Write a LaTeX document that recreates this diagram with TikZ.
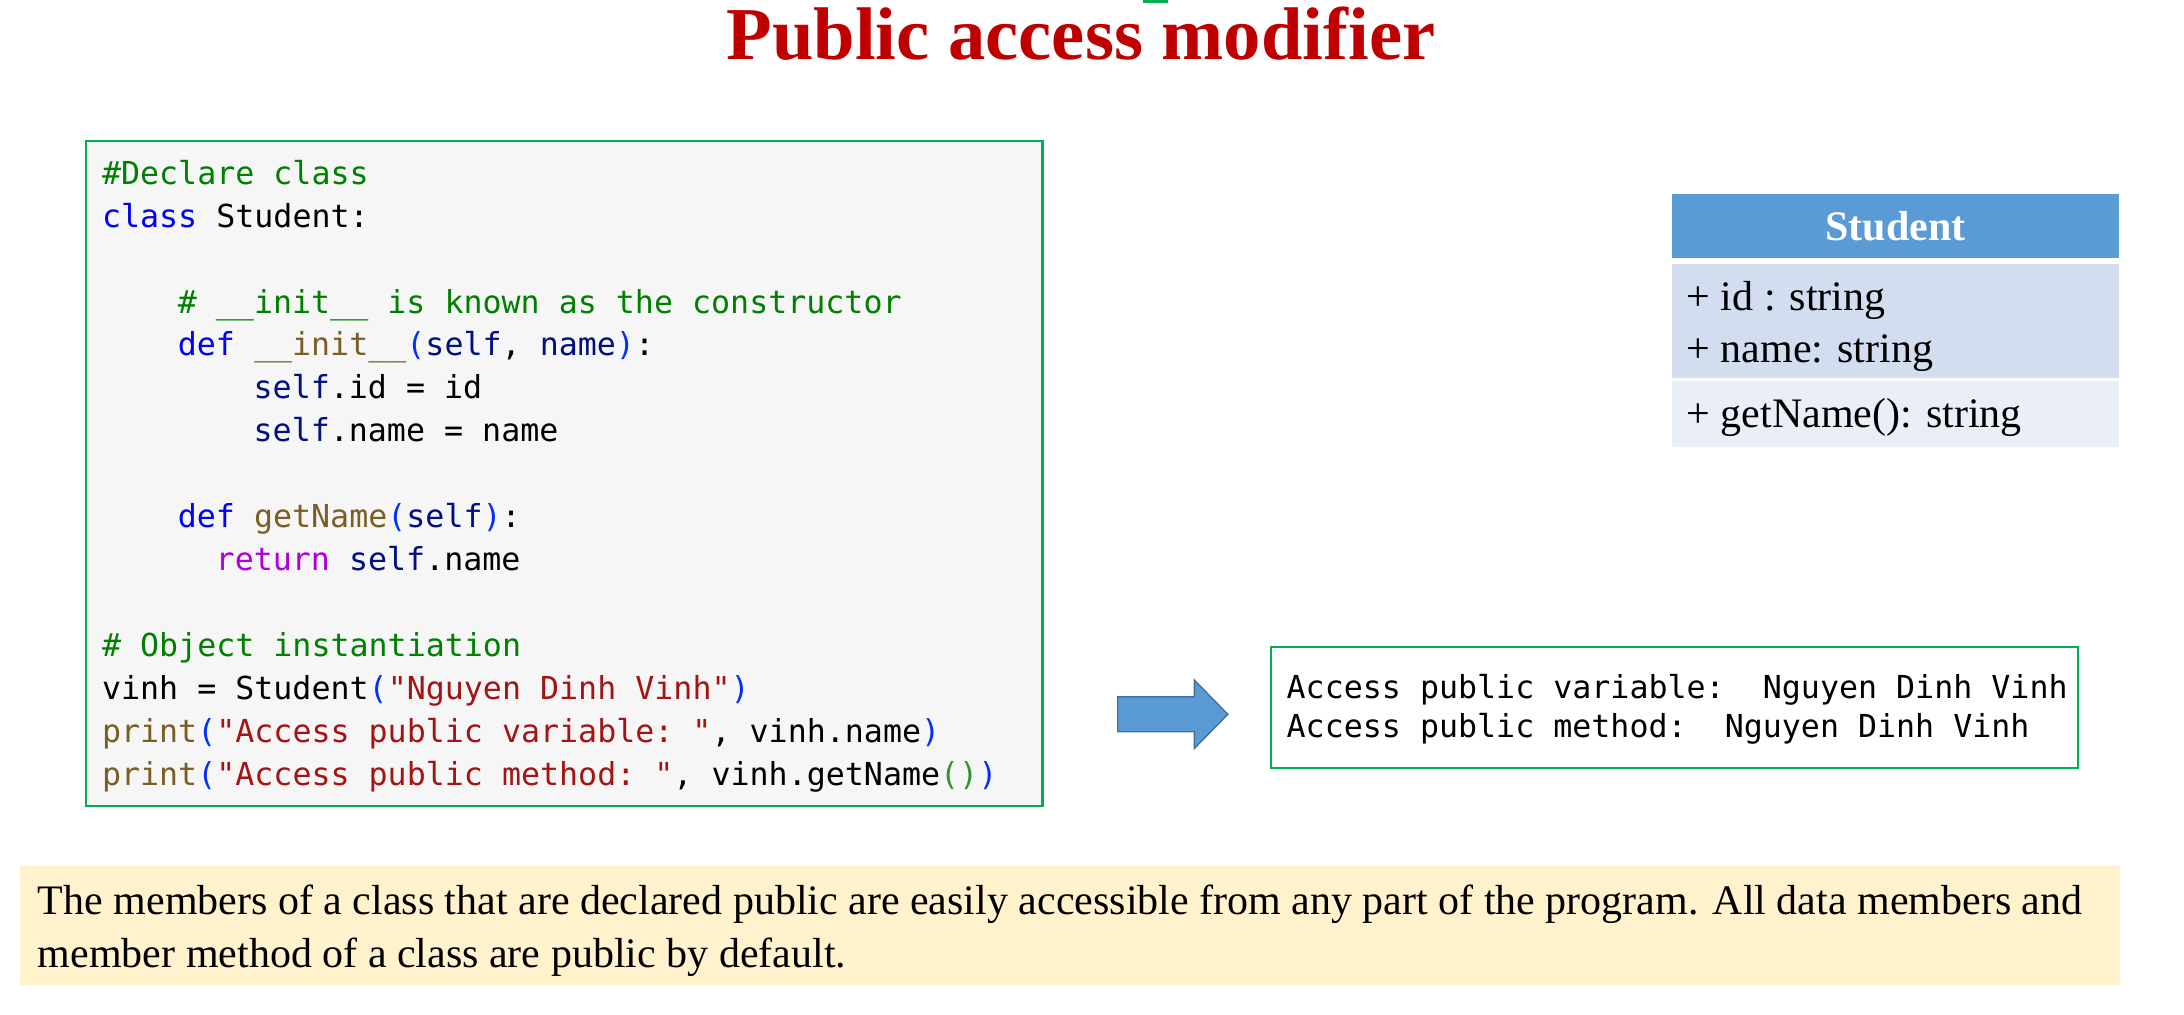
\documentclass[tikz,border=0pt]{standalone}
\usepackage{fontspec}
\setmainfont{Liberation Serif}
\setmonofont{DejaVu Sans Mono}
\usetikzlibrary{positioning}

\definecolor{titlered}{HTML}{C00000}
\definecolor{boxgreen}{HTML}{00B050}
\definecolor{codebg}{HTML}{F6F6F6}
\definecolor{umlhead}{HTML}{5B9BD5}
\definecolor{umlrowa}{HTML}{D2DEEF}
\definecolor{umlrowb}{HTML}{EAEFF7}
\definecolor{arrowline}{HTML}{41719C}
\definecolor{notebg}{HTML}{FFF2CC}
\definecolor{pycomment}{HTML}{008000}
\definecolor{pykeyword}{HTML}{0000FF}
\definecolor{pyself}{HTML}{001080}
\definecolor{pyfunc}{HTML}{795E26}
\definecolor{pyctrl}{HTML}{AF00DB}
\definecolor{pystring}{HTML}{A31515}
\definecolor{pybrace}{HTML}{0431FA}
\definecolor{pybraceb}{HTML}{319331}

\newcommand{\pycmt}[1]{\textcolor{pycomment}{#1}}
\newcommand{\pykw}[1]{\textcolor{pykeyword}{#1}}
\newcommand{\pyslf}[1]{\textcolor{pyself}{#1}}
\newcommand{\pyfn}[1]{\textcolor{pyfunc}{#1}}
\newcommand{\pyctl}[1]{\textcolor{pyctrl}{#1}}
\newcommand{\pystr}[1]{\textcolor{pystring}{#1}}
\newcommand{\pybr}[1]{\textcolor{pybrace}{#1}}
\newcommand{\pybrb}[1]{\textcolor{pybraceb}{#1}}

\begin{document}
\begin{tikzpicture}[x=0.9955pt,y=-0.9955pt,
	codeline/.style={anchor=base west,font=\ttfamily\fontsize{22.6}{27}\selectfont},
	umlrow/.style={anchor=base west,font=\fontsize{30}{36}\selectfont},
	umlcell/.style={minimum width=319.6pt,outer sep=0pt},
	notetext/.style={anchor=base west,font=\fontsize{30}{36}\selectfont}]
	\tikzstyle{every node}+=[inner sep=0pt]
	\useasboundingbox (0,0) rectangle (1567.05,727.6);
	\fill [boxgreen] (820,0) rectangle (838,2.5);
	\node (title) at (775.5,43) [anchor=base,text=titlered,font=\bfseries\fontsize{53.3}{60}\selectfont] {Public access modifier};
	\draw [boxgreen,fill=codebg,line width=1.5] (62,101) rectangle (748,578);
	\node (code1) at (73,132.2) [codeline] {\pycmt{\#Declare class}};
	\node (code2) at (73,163) [codeline] {\pykw{class} Student:};
	\node (code4) at (127.4,224.6) [codeline] {\pycmt{\# \_\_init\_\_ is known as the constructor}};
	\node (code5) at (127.4,255.4) [codeline] {\pykw{def} \pyfn{\_\_init\_\_}\pybr{(}\pyslf{self}, \pyslf{name}\pybr{)}:};
	\node (code6) at (181.8,286.2) [codeline] {\pyslf{self}.id = id};
	\node (code7) at (181.8,317) [codeline] {\pyslf{self}.name = name};
	\node (code9) at (127.4,378.6) [codeline] {\pykw{def} \pyfn{getName}\pybr{(}\pyslf{self}\pybr{)}:};
	\node (code10) at (154.6,409.4) [codeline] {\pyctl{return} \pyslf{self}.name};
	\node (code12) at (73,471) [codeline] {\pycmt{\# Object instantiation}};
	\node (code13) at (73,501.8) [codeline] {vinh = Student\pybr{(}\pystr{"Nguyen Dinh Vinh"}\pybr{)}};
	\node (code14) at (73,532.6) [codeline] {\pyfn{print}\pybr{(}\pystr{"Access public variable: "}, vinh.name\pybr{)}};
	\node (code15) at (73,563.4) [codeline] {\pyfn{print}\pybr{(}\pystr{"Access public method: "}, vinh.getName\pybrb{()}\pybr{)}};
	\node (umlname) at (1360,162) [umlcell,minimum height=45.8pt,fill=umlhead,text=white,font=\bfseries\fontsize{30}{36}\selectfont] {Student};
	\node (umlattrs) [umlcell,minimum height=81.6pt,fill=umlrowa,below=4.5pt of umlname] {};
	\node (umlops) [umlcell,minimum height=46.8pt,fill=umlrowb,below=2pt of umlattrs] {};
	\node (attrid) at (1210,223) [umlrow] {+ id : string};
	\node (attrname) at (1210,260) [umlrow] {+ name: string};
	\node (opname) at (1210,307) [umlrow] {+ getName(): string};
	\filldraw [fill=umlhead,draw=arrowline,line width=1] (802,500) -- (857,500) -- (857,488) -- (881,512.5) -- (857,537) -- (857,525) -- (802,525) -- cycle;
	\draw [boxgreen,fill=white,line width=1.5] (912,464) rectangle (1491,551);
	\node (out1) at (923,501) [codeline] {Access public variable:~~Nguyen Dinh Vinh};
	\node (out2) at (923,529) [codeline] {Access public method:~~Nguyen Dinh Vinh};
	\fill [notebg] (14,621) rectangle (1521,707);
	\node (note1) at (27,656) [notetext] {The members of a class that are declared public are easily accessible from any part of the program. All data members and};
	\node (note2) at (27,694) [notetext] {member method of a class are public by default.};
\end{tikzpicture}
\end{document}
